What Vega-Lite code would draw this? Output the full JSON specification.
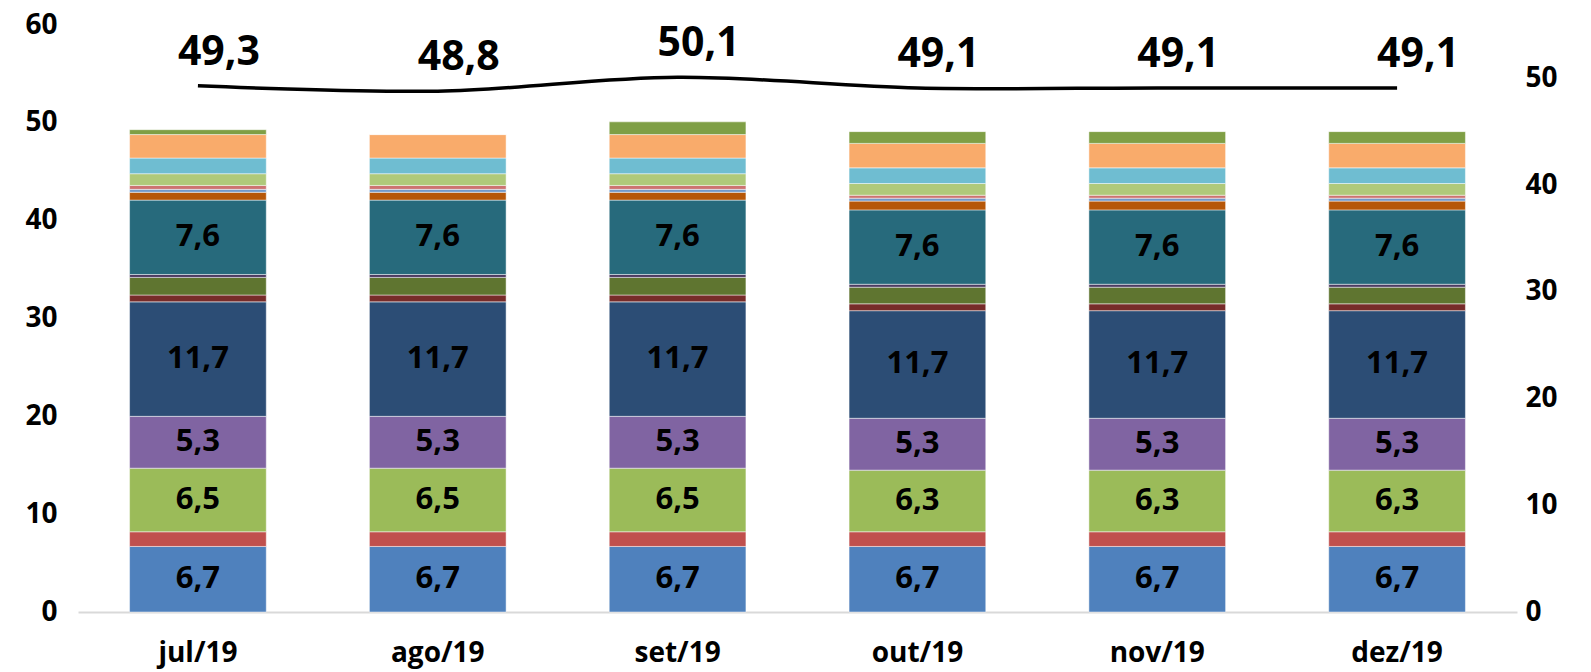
{
  "$schema": "https://vega.github.io/schema/vega-lite/v6.json",
  "width": 1439,
  "height": 587,
  "autosize": {"type": "none"},
  "padding": {"left": 78, "right": 74, "top": 25, "bottom": 60},
  "background": "white",
  "config": {
    "view": {"stroke": null},
    "font": "Open Sans",
    "axis": {"labelFont": "Open Sans", "labelFontWeight": "bold", "labelColor": "#000000", "labelFontSize": 28, "grid": false, "ticks": false, "title": null}
  },
  "datasets": {
    "bars": [
      {"m":"jul/19","s":1,"v":6.7,"l":"6,7"},{"m":"jul/19","s":2,"v":1.5,"l":""},{"m":"jul/19","s":3,"v":6.5,"l":"6,5"},{"m":"jul/19","s":4,"v":5.3,"l":"5,3"},{"m":"jul/19","s":5,"v":11.7,"l":"11,7"},{"m":"jul/19","s":6,"v":0.7,"l":""},{"m":"jul/19","s":7,"v":1.8,"l":""},{"m":"jul/19","s":8,"v":0.3,"l":""},{"m":"jul/19","s":9,"v":7.6,"l":"7,6"},{"m":"jul/19","s":10,"v":0.8,"l":""},{"m":"jul/19","s":11,"v":0.3,"l":""},{"m":"jul/19","s":12,"v":0.4,"l":""},{"m":"jul/19","s":13,"v":1.2,"l":""},{"m":"jul/19","s":14,"v":1.6,"l":""},{"m":"jul/19","s":15,"v":2.4,"l":""},{"m":"jul/19","s":16,"v":0.5,"l":""},
      {"m":"ago/19","s":1,"v":6.7,"l":"6,7"},{"m":"ago/19","s":2,"v":1.5,"l":""},{"m":"ago/19","s":3,"v":6.5,"l":"6,5"},{"m":"ago/19","s":4,"v":5.3,"l":"5,3"},{"m":"ago/19","s":5,"v":11.7,"l":"11,7"},{"m":"ago/19","s":6,"v":0.7,"l":""},{"m":"ago/19","s":7,"v":1.8,"l":""},{"m":"ago/19","s":8,"v":0.3,"l":""},{"m":"ago/19","s":9,"v":7.6,"l":"7,6"},{"m":"ago/19","s":10,"v":0.8,"l":""},{"m":"ago/19","s":11,"v":0.3,"l":""},{"m":"ago/19","s":12,"v":0.4,"l":""},{"m":"ago/19","s":13,"v":1.2,"l":""},{"m":"ago/19","s":14,"v":1.6,"l":""},{"m":"ago/19","s":15,"v":2.4,"l":""},{"m":"ago/19","s":16,"v":0.0,"l":""},
      {"m":"set/19","s":1,"v":6.7,"l":"6,7"},{"m":"set/19","s":2,"v":1.5,"l":""},{"m":"set/19","s":3,"v":6.5,"l":"6,5"},{"m":"set/19","s":4,"v":5.3,"l":"5,3"},{"m":"set/19","s":5,"v":11.7,"l":"11,7"},{"m":"set/19","s":6,"v":0.7,"l":""},{"m":"set/19","s":7,"v":1.8,"l":""},{"m":"set/19","s":8,"v":0.3,"l":""},{"m":"set/19","s":9,"v":7.6,"l":"7,6"},{"m":"set/19","s":10,"v":0.8,"l":""},{"m":"set/19","s":11,"v":0.3,"l":""},{"m":"set/19","s":12,"v":0.4,"l":""},{"m":"set/19","s":13,"v":1.2,"l":""},{"m":"set/19","s":14,"v":1.6,"l":""},{"m":"set/19","s":15,"v":2.4,"l":""},{"m":"set/19","s":16,"v":1.3,"l":""},
      {"m":"out/19","s":1,"v":6.7,"l":"6,7"},{"m":"out/19","s":2,"v":1.5,"l":""},{"m":"out/19","s":3,"v":6.3,"l":"6,3"},{"m":"out/19","s":4,"v":5.3,"l":"5,3"},{"m":"out/19","s":5,"v":11.0,"l":"11,7"},{"m":"out/19","s":6,"v":0.7,"l":""},{"m":"out/19","s":7,"v":1.7,"l":""},{"m":"out/19","s":8,"v":0.3,"l":""},{"m":"out/19","s":9,"v":7.6,"l":"7,6"},{"m":"out/19","s":10,"v":0.9,"l":""},{"m":"out/19","s":11,"v":0.3,"l":""},{"m":"out/19","s":12,"v":0.3,"l":""},{"m":"out/19","s":13,"v":1.2,"l":""},{"m":"out/19","s":14,"v":1.6,"l":""},{"m":"out/19","s":15,"v":2.5,"l":""},{"m":"out/19","s":16,"v":1.2,"l":""},
      {"m":"nov/19","s":1,"v":6.7,"l":"6,7"},{"m":"nov/19","s":2,"v":1.5,"l":""},{"m":"nov/19","s":3,"v":6.3,"l":"6,3"},{"m":"nov/19","s":4,"v":5.3,"l":"5,3"},{"m":"nov/19","s":5,"v":11.0,"l":"11,7"},{"m":"nov/19","s":6,"v":0.7,"l":""},{"m":"nov/19","s":7,"v":1.7,"l":""},{"m":"nov/19","s":8,"v":0.3,"l":""},{"m":"nov/19","s":9,"v":7.6,"l":"7,6"},{"m":"nov/19","s":10,"v":0.9,"l":""},{"m":"nov/19","s":11,"v":0.3,"l":""},{"m":"nov/19","s":12,"v":0.3,"l":""},{"m":"nov/19","s":13,"v":1.2,"l":""},{"m":"nov/19","s":14,"v":1.6,"l":""},{"m":"nov/19","s":15,"v":2.5,"l":""},{"m":"nov/19","s":16,"v":1.2,"l":""},
      {"m":"dez/19","s":1,"v":6.7,"l":"6,7"},{"m":"dez/19","s":2,"v":1.5,"l":""},{"m":"dez/19","s":3,"v":6.3,"l":"6,3"},{"m":"dez/19","s":4,"v":5.3,"l":"5,3"},{"m":"dez/19","s":5,"v":11.0,"l":"11,7"},{"m":"dez/19","s":6,"v":0.7,"l":""},{"m":"dez/19","s":7,"v":1.7,"l":""},{"m":"dez/19","s":8,"v":0.3,"l":""},{"m":"dez/19","s":9,"v":7.6,"l":"7,6"},{"m":"dez/19","s":10,"v":0.9,"l":""},{"m":"dez/19","s":11,"v":0.3,"l":""},{"m":"dez/19","s":12,"v":0.3,"l":""},{"m":"dez/19","s":13,"v":1.2,"l":""},{"m":"dez/19","s":14,"v":1.6,"l":""},{"m":"dez/19","s":15,"v":2.5,"l":""},{"m":"dez/19","s":16,"v":1.2,"l":""}
    ],
    "totals": [
      {"m":"jul/19","t":49.3,"l":"49,3"},
      {"m":"ago/19","t":48.8,"l":"48,8"},
      {"m":"set/19","t":50.1,"l":"50,1"},
      {"m":"out/19","t":49.1,"l":"49,1"},
      {"m":"nov/19","t":49.1,"l":"49,1"},
      {"m":"dez/19","t":49.1,"l":"49,1"}
    ]
  },
  "encoding": {
    "x": {
      "field": "m", "type": "nominal",
      "sort": ["jul/19","ago/19","set/19","out/19","nov/19","dez/19"],
      "scale": {"paddingInner": 0.43, "paddingOuter": 0.215},
      "axis": {"labelAngle": 0, "domainColor": "#D9D9D9", "domainWidth": 2, "labelPadding": 27, "labelBaseline": "top"}
    }
  },
  "layer": [
    {
      "data": {"name": "bars"},
      "layer": [
        {
          "mark": {"type": "bar", "stroke": "#ffffff", "strokeWidth": 0.8, "strokeOpacity": 0.6},
          "encoding": {
            "y": {"field": "v", "type": "quantitative", "stack": "zero", "scale": {"domain": [0, 60], "nice": false}, "axis": {"values": [0,10,20,30,40,50,60], "domain": false, "labelPadding": 21, "orient": "left"}},
            "color": {"field": "s", "type": "nominal", "legend": null, "scale": {"domain": [1,2,3,4,5,6,7,8,9,10,11,12,13,14,15,16], "range": ["#4F81BD","#C0504D","#9BBB59","#8064A2","#2C4D75","#772C2A","#5F7530","#4D3B62","#276A7C","#B65708","#729ACA","#CD7371","#AFC97A","#6FBDD1","#F9AB6B","#7F9F45"]}},
            "order": {"field": "s", "type": "quantitative", "sort": "ascending"}
          }
        },
        {
          "mark": {"type": "text", "fontSize": 31, "fontWeight": "bold", "color": "#000000", "baseline": "middle", "align": "center", "font": "Open Sans"},
          "encoding": {
            "y": {"field": "v", "type": "quantitative", "stack": "zero", "bandPosition": 0.5, "scale": {"domain": [0, 60], "nice": false}, "axis": {"values": [0,10,20,30,40,50,60], "domain": false, "labelPadding": 21, "orient": "left"}},
            "detail": {"field": "s", "type": "nominal"},
            "order": {"field": "s", "type": "quantitative", "sort": "ascending"},
            "text": {"field": "l", "type": "nominal"}
          }
        }
      ]
    },
    {
      "data": {"name": "totals"},
      "layer": [
        {
          "mark": {"type": "line", "color": "#000000", "strokeWidth": 3.5, "interpolate": "catmull-rom"},
          "encoding": {
            "y": {"field": "t", "type": "quantitative", "scale": {"domain": [0, 55], "nice": false}, "axis": {"values": [0,10,20,30,40,50], "domain": false, "labelPadding": 8, "orient": "right"}}
          }
        },
        {
          "mark": {"type": "text", "fontSize": 41, "fontWeight": "bold", "color": "#000000", "baseline": "middle", "align": "center", "dx": 21, "dy": -33, "font": "Open Sans"},
          "encoding": {
            "y": {"field": "t", "type": "quantitative", "scale": {"domain": [0, 55], "nice": false}, "axis": {"values": [0,10,20,30,40,50], "domain": false, "labelPadding": 8, "orient": "right"}},
            "text": {"field": "l", "type": "nominal"}
          }
        }
      ]
    }
  ],
  "resolve": {"scale": {"y": "independent"}}
}
